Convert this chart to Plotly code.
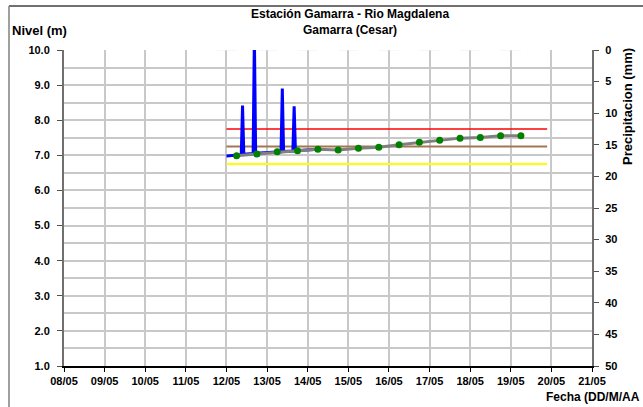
import plotly.graph_objects as go

# ---------------- data ----------------
# Hourly sensor level (m), blue line
sensor_time = [
    "2012-05-12 00:00", "2012-05-12 08:45", "2012-05-12 09:30", "2012-05-12 10:15",
    "2012-05-12 15:45", "2012-05-12 16:30", "2012-05-12 17:15",
    "2012-05-13 08:15", "2012-05-13 09:00", "2012-05-13 09:45",
    "2012-05-13 15:15", "2012-05-13 16:00", "2012-05-13 16:45",
    "2012-05-14 01:00", "2012-05-14 06:00",
]
sensor_level = [
    6.98, 7.02, 8.42, 7.03,
    7.05, 10.40, 7.06,
    7.10, 8.90, 7.11,
    7.12, 8.40, 7.13,
    7.15, 7.17,
]

# Manual readings (m), grey line with green dots (06:00 and 18:00)
reading_time = [
    "2012-05-12 06:00", "2012-05-12 18:00", "2012-05-13 06:00", "2012-05-13 18:00",
    "2012-05-14 06:00", "2012-05-14 18:00", "2012-05-15 06:00", "2012-05-15 18:00",
    "2012-05-16 06:00", "2012-05-16 18:00", "2012-05-17 06:00", "2012-05-17 18:00",
    "2012-05-18 06:00", "2012-05-18 18:00", "2012-05-19 06:00",
]
reading_level = [
    6.99, 7.04, 7.10, 7.13,
    7.17, 7.15, 7.20, 7.23,
    7.30, 7.37, 7.43, 7.49,
    7.51, 7.56, 7.56,
]

# Threshold levels (m)
threshold_span = ["2012-05-12 00:00", "2012-05-19 21:30"]
threshold_red = 7.75
threshold_brown = 7.25
threshold_yellow = 6.75

# Precipitation (mm), right reversed axis
precip_time = ["2012-05-12", "2012-05-13", "2012-05-14", "2012-05-15",
               "2012-05-16", "2012-05-17", "2012-05-18", "2012-05-19"]
precip_mm = [0, 0, 0, 0, 0, 0, 0, 0]

level_ticks = [1, 2, 3, 4, 5, 6, 7, 8, 9, 10]
precip_ticks = [0, 5, 10, 15, 20, 25, 30, 35, 40, 45, 50]

title_text = "Estación Gamarra - Rio Magdalena<br>Gamarra (Cesar)"
ylabel_text = "Nivel (m)"
xlabel_text = "Fecha (DD/M/AA"
y2label_text = "Precipitacion (mm)"

# ---------------- figure ----------------
FONT = "Liberation Sans, Arial, sans-serif"
bold11 = dict(family=FONT, size=11, color="black", weight="bold")
lab13 = dict(family=FONT, size=13, color="black")
GRID = "#C8C8C8"

fig = go.Figure()

fig.add_trace(go.Bar(x=precip_time, y=precip_mm, yaxis="y2",
                     marker_color="#0000FF", showlegend=False, hoverinfo="skip"))

for val, col, w in [(threshold_yellow, "#FFFF00", 2),
                    (threshold_brown, "#A07850", 2),
                    (threshold_red, "#FF0000", 1.6)]:
    fig.add_trace(go.Scatter(x=threshold_span, y=[val, val], mode="lines",
                             line=dict(color=col, width=w), showlegend=False))

fig.add_trace(go.Scatter(x=sensor_time, y=sensor_level, mode="lines",
                         line=dict(color="#0000FF", width=3), showlegend=False))

fig.add_trace(go.Scatter(x=reading_time, y=reading_level, mode="lines+markers",
                         line=dict(color="#808080", width=3),
                         marker=dict(color="#008000", size=7),
                         showlegend=False))

fig.update_layout(
    width=643, height=407,
    margin=dict(l=64, r=51, t=50, b=41),
    paper_bgcolor="white", plot_bgcolor="white",
    font=dict(family=FONT, size=11, color="black"),
    xaxis=dict(
        type="date",
        range=["2012-05-08", "2012-05-21"],
        tick0="2012-05-08", dtick=86400000,
        tickformat="%d/%m",
        tickfont=bold11,
        showgrid=True, gridcolor=GRID, gridwidth=1.5,
        showline=True, linecolor="black", linewidth=1.5,
        ticks="outside", ticklen=4, tickcolor="black",
        zeroline=False,
    ),
    yaxis=dict(
        range=[1, 10],
        tickvals=level_ticks,
        tickformat=".1f",
        tickfont=bold11,
        ticklabelstandoff=5,
        showgrid=True, gridcolor=GRID, gridwidth=1.5,
        minor=dict(dtick=0.5, tick0=1, showgrid=True, gridcolor=GRID, gridwidth=1.5),
        showline=True, linecolor="#707070", linewidth=2,
        ticks="outside", ticklen=5, tickcolor="#505050",
        zeroline=False,
    ),
    yaxis2=dict(
        overlaying="y", side="right",
        range=[50, 0],
        tickvals=precip_ticks,
        tickfont=bold11,
        ticklabelstandoff=4,
        showgrid=False,
        showline=True, linecolor="#707070", linewidth=2,
        ticks="outside", ticklen=5, tickcolor="#505050",
        zeroline=False,
    ),
    bargap=0.5,
)

def py(y_px):
    return (366 - y_px) / 316

def px(x_px):
    return (x_px - 64) / 528

annotations = [
    dict(text="<b>" + title_text + "</b>", x=px(350), y=py(22), xref="paper", yref="paper",
         xanchor="center", yanchor="middle", showarrow=False,
         font=dict(family=FONT, size=12, color="black")),
    dict(text="<b>" + ylabel_text + "</b>", x=px(10), y=py(31), xref="paper", yref="paper",
         xanchor="left", yanchor="middle", showarrow=False, font=lab13),
    dict(text="<b>" + xlabel_text + "</b>", x=px(642), y=py(397), xref="paper", yref="paper",
         xanchor="right", yanchor="middle", showarrow=False,
         font=dict(family=FONT, size=12, color="black")),
    dict(text="<b>" + y2label_text + "</b>", x=px(628), y=py(107), xref="paper", yref="paper",
         xanchor="center", yanchor="middle", showarrow=False, textangle=-90, font=lab13),
]
fig.update_layout(annotations=annotations)

# outer chart-area frame (top and left edges visible)
fig.add_shape(type="line", xref="paper", yref="paper",
              x0=px(9), y0=py(6), x1=px(700), y1=py(6),
              line=dict(color="#404040", width=1.5))
fig.add_shape(type="line", xref="paper", yref="paper",
              x0=px(9), y0=py(6), x1=px(9), y1=py(450),
              line=dict(color="#808080", width=1.5))

fig.write_html(
    "out.html",
    config={"displayModeBar": False},
    post_script="document.body.style.margin='0';document.body.style.padding='0';",
)
